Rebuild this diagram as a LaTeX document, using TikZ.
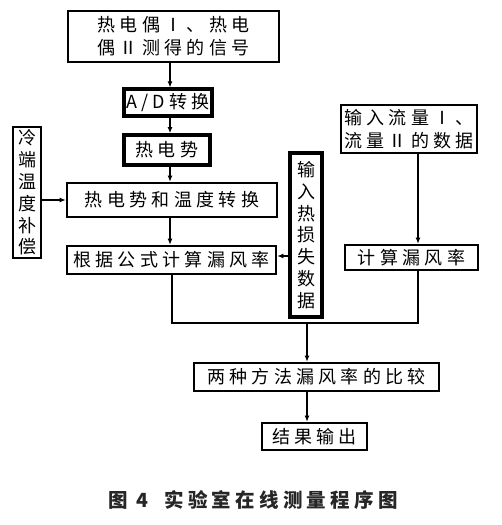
\documentclass[tikz,border=0pt]{standalone}
\usepackage{fontspec}
\setmainfont{Noto Sans CJK SC}
\newfontfamily\boxfont[LetterSpace=24]{Noto Sans CJK SC}
\newfontfamily\capfont[LetterSpace=22]{Noto Sans CJK SC}
\usetikzlibrary{arrows.meta}

\begin{document}
\begin{tikzpicture}[x=1pt, y=-1pt,
    stepbox/.style={draw, line width=2.6pt, inner sep=0pt, align=center,
        font=\boxfont\fontsize{18}{23}\selectfont},
    vbox/.style={stepbox, font=\boxfont\fontsize{18}{21.8}\selectfont},
    arr/.style={line width=1.1pt, -{Latex[length=6pt, width=5pt]}},
    ln/.style={line width=1.1pt}]
    \useasboundingbox (0,0) rectangle (501,525);

    \node[stepbox, minimum width=211pt, minimum height=51pt] (sig) at (173.5,36.5) {热电偶Ⅰ、热电\\偶Ⅱ测得的信号};
    \node[stepbox, line width=3.2pt, minimum width=88pt, minimum height=27pt] (ad) at (168,102.5) {A/D转换};
    \node[stepbox, line width=3.8pt, minimum width=86pt, minimum height=30pt] (emf) at (167,150) {热电势};
    \node[stepbox, minimum width=210pt, minimum height=34pt] (conv) at (172,200) {热电势和温度转换};
    \node[stepbox, minimum width=209pt, minimum height=28pt] (calc) at (171.5,260) {根据公式计算漏风率};

    \node[vbox, minimum width=28pt, minimum height=131pt] (cold) at (27,192.5) {冷\\端\\温\\度\\补\\偿};
    \node[vbox, line width=3.2pt, minimum width=32pt, minimum height=164pt] (heat) at (306,235) {输\\入\\热\\损\\失\\数\\据};

    \node[stepbox, minimum width=136pt, minimum height=48pt] (flow) at (409,129) {输入流量Ⅰ、\\流量Ⅱ的数据};
    \node[stepbox, minimum width=133pt, minimum height=25pt] (rate) at (411.5,257.5) {计算漏风率};

    \node[stepbox, minimum width=245pt, minimum height=28pt] (cmp) at (316.5,377) {两种方法漏风率的比较};
    \node[stepbox, minimum width=105pt, minimum height=27pt] (out) at (314.5,436.5) {结果输出};

    \coordinate (spine) at (170,0);
    \coordinate (side) at (418,0);
    \coordinate (merge) at (307,323);

    \draw[arr] (sig.south -| spine) -- (ad.north -| spine);
    \draw[arr] (ad.south -| spine) -- (emf.north -| spine);
    \draw[arr] (emf.south -| spine) -- (conv.north -| spine);
    \draw[arr] (conv.south -| spine) -- (calc.north -| spine);
    \draw[arr] (cold.east |- conv) -- (conv.west);
    \draw[arr] (heat.west |- 0,256) -- (calc.east |- 0,256);
    \draw[arr] (flow.south -| side) -- (rate.north -| side);

    \draw[ln] (calc.south -| 172,0) -- (172,323) -- (merge) -- (418,323) -- (rate.south -| side);
    \draw[arr] (merge) -- (cmp.north -| merge);
    \draw[arr] (cmp.south -| merge) -- (out.north -| merge);

    \node[font=\capfont\bfseries\fontsize{19.5}{22}\selectfont, text=black!85] (cap) at (253,500) {图 4\hspace{16pt}实验室在线测量程序图};
\end{tikzpicture}
\end{document}
